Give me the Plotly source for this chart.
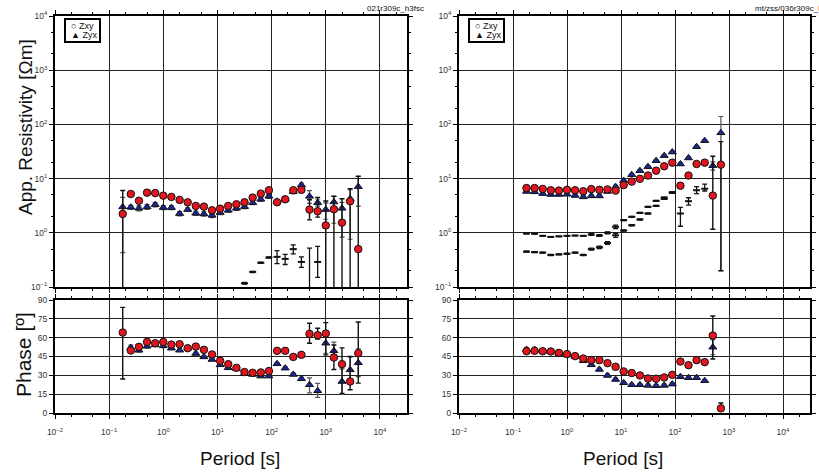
import plotly.graph_objects as go

W, H = 819, 472

# ---------------- data ----------------
periods = [0.178, 0.251, 0.355, 0.501, 0.708, 1.0, 1.41, 2.0, 2.82, 3.98,
           5.62, 7.94, 11.2, 15.8, 22.4, 31.6, 44.7, 63.1, 89.1, 126,
           178, 251, 355, 501, 708, 1000, 1413, 1995, 2818, 3981]

# Left station (021r309c_h3fsc)
L_rxy = [2.23, 5.2, 3.9, 5.5, 5.4, 4.85, 4.6, 4.04, 3.65, 3.13, 3.04, 2.6, 2.79, 3.13, 3.36,
         3.66, 4.46, 5.28, 6.1, 3.66, 4.15, 6.1, 6.2, 2.68, 2.5, 1.37, 2.72, 1.54, 3.82, 0.50]
L_rxy_ep = [3.8, 0.5, 0.4, 0.6, 0.5, 0.4, 0.4, 0.35, 0.3, 0.3, 0.3, 0.25, 0.25, 0.3, 0.3,
            0.3, 0.4, 0.45, 0.5, 0.3, 0.35, 0.5, 0.55, 1.4, 2.0, 2.5, 2.0, 2.7, 2.7, 10.5]
L_rxy_em = [2.18, 0.5, 0.4, 0.6, 0.5, 0.4, 0.4, 0.35, 0.3, 0.3, 0.3, 0.25, 0.25, 0.3, 0.3,
            0.3, 0.4, 0.45, 0.5, 0.3, 0.35, 0.5, 0.55, 0.95, 0.55, 1.32, 2.67, 1.49, 3.77, 0.45]
L_ryx = [3.0, 2.96, 2.83, 3.0, 3.31, 2.92, 2.92, 2.26, 2.68, 2.29, 2.23, 2.1, 2.36, 2.6, 2.83,
         3.04, 3.6, 4.15, 4.72, 3.8, 4.15, 5.75, 7.6, 4.7, 3.6, 2.68, 3.7, 2.83, 4.26, 7.1]
L_ryx_ep = [1.5, 0.25, 0.3, 0.3, 0.3, 0.25, 0.25, 0.2, 0.2, 0.2, 0.2, 0.2, 0.2, 0.2, 0.25,
            0.25, 0.3, 0.35, 0.4, 0.3, 0.35, 0.5, 0.7, 1.3, 0.6, 0.9, 1.0, 0.8, 2.0, 4.0]
L_ryx_em = [2.57, 0.25, 0.3, 0.3, 0.3, 0.25, 0.25, 0.2, 0.2, 0.2, 0.2, 0.2, 0.2, 0.2, 0.25,
            0.25, 0.3, 0.35, 0.4, 0.3, 0.35, 0.5, 0.7, 1.2, 0.5, 0.9, 2.2, 2.0, 3.5, 4.0]
L_diag_per = [31.6, 44.7, 63.1, 89.1, 126, 178, 251, 355, 501, 708]
L_diag = [0.117, 0.19, 0.28, 0.35, 0.36, 0.33, 0.50, 0.29, 0.07, 0.29]
L_diag_ep = [0.004, 0.005, 0.008, 0.01, 0.11, 0.07, 0.10, 0.07, 0.45, 0.27]
L_diag_em = [0.004, 0.005, 0.008, 0.01, 0.09, 0.07, 0.09, 0.06, 0.02, 0.14]

L_pxy = [64.1, 49.8, 52.7, 56.6, 55.6, 56.6, 54.5, 54.8, 51.6, 52.9, 50.3, 46.6, 41.6, 38.9, 36.0,
         32.6, 32.0, 32.3, 33.4, 49.5, 49.5, 44.7, 46.3, 63.0, 61.9, 63.3, 44.2, 38.9, 25.1, 47.6]
L_pxy_ep = [20, 1.5, 1.5, 2, 1.5, 1.5, 1.5, 1.5, 1, 1, 1, 1, 1, 1, 1,
            1, 1, 1, 1, 1, 1, 1, 1, 8.5, 5.6, 8.7, 10, 13, 20, 24.9]
L_pxy_em = [37, 1.5, 1.5, 2, 1.5, 1.5, 1.5, 1.5, 1, 1, 1, 1, 1, 1, 1,
            1, 1, 1, 1, 1, 1, 1, 1, 7.4, 3.1, 17, 9.5, 23.3, 6.6, 23.8]
L_pyx = [None, 52.1, 50.0, 53.2, 54.3, 53.5, 51.6, 50.0, 51.6, 47.4, 44.7, 42.6, 38.4, 36.0, 35.2,
         31.5, 30.7, 29.4, 29.4, 39.2, 35.7, 30.7, 27.3, 22.5, 17.7, 55.6, 49.5, 25.1, 34.4, 40.0]
L_pyx_ep = [0, 2, 1.5, 1.5, 1.5, 1.5, 1, 1, 1, 1, 1, 1, 1, 1, 1,
            1, 1, 1, 1, 1, 1, 1, 1, 5.5, 5.9, 8, 7, 10, 10, 11]
L_pyx_em = [0, 2, 1.5, 1.5, 1.5, 1.5, 1, 1, 1, 1, 1, 1, 1, 1, 1,
            1, 1, 1, 1, 1, 1, 1, 1, 6.5, 5.2, 8, 7, 10, 10, 11]

# Right station (mt/zss/036r309c)
R_per = periods[:25]
R_rxy = [6.7, 6.7, 6.45, 6.1, 6.0, 6.2, 6.1, 5.85, 6.4, 6.2, 6.3, 6.0, 7.6, 8.8, 9.9,
         11.4, 14.0, 16.9, 19.7, 7.4, 11.4, 18.6, 19.7, 4.86, 18.1]
R_rxy_ep = [0.4, 0.4, 0.35, 0.3, 0.3, 0.3, 0.3, 0.3, 0.3, 0.3, 0.3, 0.3, 0.4, 0.4, 0.5,
            0.5, 0.6, 0.8, 0.9, 0.5, 0.6, 0.9, 1.0, 21, 30]
R_rxy_em = [0.4, 0.4, 0.35, 0.3, 0.3, 0.3, 0.3, 0.3, 0.3, 0.3, 0.3, 0.3, 0.4, 0.4, 0.5,
            0.5, 0.6, 0.8, 0.9, 0.5, 0.6, 0.9, 1.0, 3.7, 17.9]
R_ryx = [5.8, 5.7, 5.3, 5.1, 5.1, 5.15, 4.9, 4.6, 4.8, 4.8, 5.8, 7.1, 9.2, 11.8, 14.0,
         16.6, 21.4, 26.5, 30.9, 18.6, 24, 38.8, 50, 17.3, 70]
R_ryx_ep = [0.3, 0.3, 0.3, 0.3, 0.3, 0.3, 0.3, 0.3, 0.3, 0.3, 0.3, 0.4, 0.5, 0.6, 0.7,
            0.8, 1.0, 1.2, 1.4, 1.0, 1.2, 2.0, 2.5, 3.0, 70]
R_ryx_em = [0.3, 0.3, 0.3, 0.3, 0.3, 0.3, 0.3, 0.3, 0.3, 0.3, 0.3, 0.4, 0.5, 0.6, 0.7,
            0.8, 1.0, 1.2, 1.4, 1.0, 1.2, 2.0, 2.5, 3.0, 69.8]
R_diagA_per = periods[:23]
R_diagA = [0.97, 0.96, 0.88, 0.84, 0.86, 0.88, 0.89, 0.88, 0.93, 0.89, 1.0, 1.29, 1.71, 1.97, 2.33,
           3.01, 3.88, 4.47, 5.6, 2.27, 3.83, 6.1, 6.5]
R_diagA_ep = [0.01, 0.01, 0.01, 0.01, 0.01, 0.01, 0.01, 0.01, 0.03, 0.03, 0.04, 0.1, 0.03, 0.03, 0.04,
              0.05, 0.06, 0.08, 0.1, 0.68, 0.6, 1.0, 1.4]
R_diagA_em = [0.01, 0.01, 0.01, 0.01, 0.01, 0.01, 0.01, 0.01, 0.03, 0.03, 0.04, 0.1, 0.03, 0.03, 0.04,
              0.05, 0.06, 0.08, 0.1, 0.95, 0.6, 0.8, 0.6]
R_diagB_per = periods[:19]
R_diagB = [0.45, 0.44, 0.43, 0.39, 0.40, 0.41, 0.43, 0.39, 0.50, 0.54, 0.65, 0.9, 1.1, 1.38, 1.76,
           2.27, 3.14, 4.23, 5.45]
R_diagB_ep = [0.01, 0.01, 0.01, 0.01, 0.01, 0.01, 0.01, 0.01, 0.02, 0.03, 0.04, 0.08, 0.03, 0.03, 0.04,
              0.05, 0.06, 0.08, 0.1]
R_diagB_em = R_diagB_ep

R_pxy = [49.2, 49.5, 49.2, 49.0, 47.9, 46.9, 45.3, 43.4, 42.1, 42.1, 39.7, 36.8, 33.1, 31.8, 29.9,
         27.5, 27.3, 28.3, 30.4, 41.0, 38.1, 42.1, 40.5, 61.7, 3.7]
R_pxy_ep = [1, 1, 1, 1, 1, 1, 1, 1, 1, 1, 1, 1, 1, 1, 1, 1, 1, 1, 1, 1.5, 1.5, 1.5, 1.5, 15.6, 4.3]
R_pxy_em = [1, 1, 1, 1, 1, 1, 1, 1, 1, 1, 1, 1, 1, 1, 1, 1, 1, 1, 1, 1.5, 1.5, 1.5, 1.5, 18.7, 1.0]
R_pyx = [50.6, 50.6, 49.8, 49.0, 47.4, 46.3, 45.0, 41.6, 38.4, 34.7, 29.9, 26.7, 24.1, 22.5, 22.5,
         22.0, 21.7, 22.0, 23.0, 28.9, 28.1, 28.1, 25.7, 52.4, None]
R_pyx_ep = [1.5, 1, 1, 1, 1, 1, 1, 1, 1, 1, 1, 1, 1, 1, 1, 1, 1, 1, 1, 1, 1, 1, 1, 6, 0]
R_pyx_em = R_pyx_ep

x_ticks = [0.01, 0.1, 1, 10, 100, 1000, 10000]
x_ticktext = ['10<sup>−2</sup>', '10<sup>−1</sup>', '10<sup>0</sup>', '10<sup>1</sup>',
              '10<sup>2</sup>', '10<sup>3</sup>', '10<sup>4</sup>']
rho_ticks = [0.1, 1, 10, 100, 1000, 10000]
rho_ticktext = ['10<sup>−1</sup>', '10<sup>0</sup>', '10<sup>1</sup>', '10<sup>2</sup>',
                '10<sup>3</sup>', '10<sup>4</sup>']
phase_ticks = [0, 15, 30, 45, 60, 75, 90]

# ---------------- style ----------------
RED = '#e3161e'
BLUE = '#1b2796'
FONT = 'Liberation Sans'
NARROW = 'Liberation Sans Narrow, Liberation Sans, Arial'


def px(x):
    return x / W


def py(y):
    return 1 - y / H


def err(ep, em, color, thick=1.2):
    return dict(type='data', array=ep, arrayminus=em, color=color,
                thickness=thick, width=2.5, visible=True)


fig = go.Figure()


def add_panel(xa, ya, xs, y1, e1p, e1m, y2, e2p, e2m, diag_sets):
    for dx, dy, dep, dem in diag_sets:
        fig.add_trace(go.Scatter(x=dx, y=dy, mode='markers', xaxis=xa, yaxis=ya,
                                 marker=dict(symbol='line-ew', size=5,
                                             line=dict(width=2, color='#111')),
                                 error_y=err(dep, dem, '#111', 1.3), showlegend=False))
    fig.add_trace(go.Scatter(x=xs, y=y2, mode='markers', xaxis=xa, yaxis=ya,
                             marker=dict(symbol='triangle-up', size=7, color=BLUE,
                                         line=dict(width=1, color='#111')),
                             error_y=err(e2p, e2m, '#555'), showlegend=False))
    fig.add_trace(go.Scatter(x=xs, y=y1, mode='markers', xaxis=xa, yaxis=ya,
                             marker=dict(symbol='circle', size=7.5, color=RED,
                                         line=dict(width=1, color='#111')),
                             error_y=err(e1p, e1m, '#111', 1.4), showlegend=False))


add_panel('x', 'y', periods, L_rxy, L_rxy_ep, L_rxy_em, L_ryx, L_ryx_ep, L_ryx_em,
          [(L_diag_per, L_diag, L_diag_ep, L_diag_em)])
add_panel('x2', 'y2', periods, L_pxy, L_pxy_ep, L_pxy_em, L_pyx, L_pyx_ep, L_pyx_em, [])
add_panel('x3', 'y3', R_per, R_rxy, R_rxy_ep, R_rxy_em, R_ryx, R_ryx_ep, R_ryx_em,
          [(R_diagA_per, R_diagA, R_diagA_ep, R_diagA_em),
           (R_diagB_per, R_diagB, R_diagB_ep, R_diagB_em)])
add_panel('x4', 'y4', R_per, R_pxy, R_pxy_ep, R_pxy_em, R_pyx, R_pyx_ep, R_pyx_em, [])

tickfont = dict(family=FONT, size=8.5, color='#333')
common = dict(showgrid=True, gridcolor='#222', gridwidth=1, showline=True, linecolor='black',
              linewidth=2, mirror='ticks', ticks='outside', ticklen=4, tickwidth=1,
              tickcolor='black', zeroline=False, tickfont=tickfont, automargin=False)
minor = dict(ticks='outside', ticklen=2, tickcolor='black', showgrid=False)
xcommon = dict(type='log', range=[-2, 4.5], tickvals=x_ticks, ticktext=x_ticktext,
               minor=minor, **common)
ycommon = dict(type='log', range=[-1, 4], tickvals=rho_ticks, ticktext=rho_ticktext,
               minor=minor, **common)

LX = [px(55), px(407)]
RX = [px(459), px(810)]
TY = [py(287), py(16)]
BY = [py(413), py(300)]

fig.update_layout(
    template='none',
    width=W, height=H, margin=dict(l=0, r=0, t=0, b=0, pad=0),
    paper_bgcolor='white', plot_bgcolor='white', showlegend=False,
    xaxis=dict(domain=LX, anchor='y', showticklabels=False, **xcommon),
    xaxis2=dict(domain=LX, anchor='y2', ticklabelstandoff=6, **xcommon),
    xaxis3=dict(domain=RX, anchor='y3', showticklabels=False, **xcommon),
    xaxis4=dict(domain=RX, anchor='y4', ticklabelstandoff=6, **xcommon),
    yaxis=dict(domain=TY, anchor='x', **ycommon),
    yaxis2=dict(domain=BY, anchor='x2', range=[0, 90], tickvals=phase_ticks, **common),
    yaxis3=dict(domain=TY, anchor='x3', **ycommon),
    yaxis4=dict(domain=BY, anchor='x4', range=[0, 90], tickvals=phase_ticks, **common),
)

ann = []
# axis titles
ann.append(dict(x=px(25), y=py(127), text='App. Resistivity [Ωm]', textangle=-90,
                font=dict(family=NARROW, size=19, color='#111')))
ann.append(dict(x=px(23), y=py(355), text='Phase [º]', textangle=-90,
                font=dict(family=NARROW, size=21, color='#111')))
ann.append(dict(x=px(240), y=py(458), text='Period [s]',
                font=dict(family=FONT, size=19, color='#111')))
ann.append(dict(x=px(623), y=py(458), text='Period [s]',
                font=dict(family=FONT, size=19, color='#111')))
# station labels
ann.append(dict(x=px(365), y=py(9), text='021r309c_h3fsc', xanchor='left',
                font=dict(family=FONT, size=8, color='#111')))
ann.append(dict(x=px(753), y=py(9), text='mt/zss/036r309c_h3fsc', xanchor='left',
                font=dict(family=FONT, size=8, color='#111')))
# legends
shapes = []
for x0 in (65, 469):
    shapes.append(dict(type='rect', xref='paper', yref='paper', x0=px(x0), x1=px(x0 + 35),
                       y0=py(42), y1=py(19), line=dict(color='black', width=2),
                       fillcolor='white', layer='above'))
    ann.append(dict(x=px(x0 + 4), y=py(26), text='<b>○</b> Zxy', xanchor='left',
                    font=dict(family=FONT, size=9, color='#111')))
    ann.append(dict(x=px(x0 + 4), y=py(35), text='▲ Zyx', xanchor='left',
                    font=dict(family=FONT, size=9, color='#111')))

for a in ann:
    a.setdefault('xref', 'paper')
    a.setdefault('yref', 'paper')
    a.setdefault('showarrow', False)
    a.setdefault('xanchor', 'center')
    a.setdefault('yanchor', 'middle')
fig.update_layout(annotations=ann, shapes=shapes)

fig.write_html('out.html', config={'displayModeBar': False, 'staticPlot': True},
               post_script="document.body.style.margin='0px';document.body.style.overflow='hidden';")
